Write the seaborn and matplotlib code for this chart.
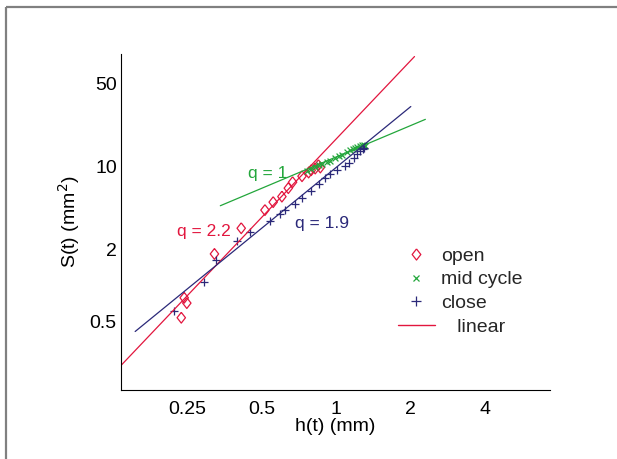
import matplotlib
matplotlib.use('Agg')
import matplotlib.pyplot as plt
import seaborn as sns
import pandas as pd
from matplotlib.lines import Line2D
from matplotlib.markers import MarkerStyle

# ---------------- data ----------------
open_h = [0.2365, 0.243, 0.249, 0.322, 0.413, 0.515, 0.556, 0.603, 0.640,
          0.666, 0.727, 0.773, 0.792, 0.822, 0.847, 0.862]
open_S = [0.533, 0.785, 0.708, 1.84, 3.03, 4.31, 5.03, 5.60, 6.60,
          7.41, 8.32, 8.94, 9.35, 9.66, 10.3, 9.85]

mid_h = [0.761, 0.790, 0.822, 0.848, 0.875, 0.917, 0.946, 0.991, 1.022, 1.054,
         1.105, 1.139, 1.168, 1.193, 1.212, 1.242, 1.270, 1.289, 1.310]
mid_S = [9.22, 9.53, 10.04, 10.30, 10.50, 10.97, 11.19, 11.95, 12.32, 12.49,
         13.31, 13.76, 14.03, 14.49, 14.66, 14.96, 15.16, 15.24, 14.96]

close_h = [0.2215, 0.291, 0.327, 0.397, 0.449, 0.541, 0.594, 0.622, 0.683,
           0.727, 0.790, 0.848, 0.903, 0.946, 1.006, 1.087, 1.121, 1.175,
           1.212, 1.250, 1.282, 1.297]
close_S = [0.607, 1.064, 1.638, 2.35, 2.83, 3.50, 3.99, 4.34, 4.84,
           5.44, 6.26, 7.13, 7.96, 8.65, 9.40, 10.16, 10.85, 11.95,
           12.74, 13.58, 14.22, 14.50]

fit_open_h = [0.135, 2.07]
fit_open_S = [0.211, 85.0]
fit_mid_h = [0.34, 2.29]
fit_mid_S = [4.69, 25.1]
fit_close_h = [0.154, 2.0]
fit_close_S = [0.408, 32.2]

x_ticks = [0.25, 0.5, 1, 2, 4]
x_tick_labels = ['0.25', '0.5', '1', '2', '4']
y_ticks = [0.5, 2, 10, 50]
y_tick_labels = ['0.5', '2', '10', '50']

legend_labels = ['open', 'mid cycle', 'close', '   linear']
annotations = [('q = 1', 0.441, 8.82), ('q = 2.2', 0.228, 2.82), ('q = 1.9', 0.683, 3.29)]

# ---------------- style ----------------
RED = '#E2163E'
GREEN = '#23A63B'
NAVY = '#2B2979'

sns.set_theme(style='white')
plt.rcParams['font.family'] = ['Liberation Sans', 'DejaVu Sans']

fig = plt.figure(figsize=(6.17, 4.59), dpi=100, facecolor='white', edgecolor='white', linewidth=0)
W, H = 617, 459
ax = fig.add_axes([121 / W, 1 - 390 / H, 429 / W, 336 / H])

diamond = MarkerStyle([(0, 1), (0.78, 0), (0, -1), (-0.78, 0), (0, 1)])

# fitted lines
sns.lineplot(x=fit_open_h, y=fit_open_S, ax=ax, color=RED, lw=0.9, legend=False)
sns.lineplot(x=fit_mid_h, y=fit_mid_S, ax=ax, color=GREEN, lw=0.9, legend=False)
sns.lineplot(x=fit_close_h, y=fit_close_S, ax=ax, color=NAVY, lw=0.9, legend=False)

# markers
df_open = pd.DataFrame({'h': open_h, 'S': open_S})
df_mid = pd.DataFrame({'h': mid_h, 'S': mid_S})
df_close = pd.DataFrame({'h': close_h, 'S': close_S})
sns.scatterplot(data=df_open, x='h', y='S', ax=ax, marker=diamond, s=60,
                facecolor='none', edgecolor=RED, linewidth=0.9, legend=False)
sns.scatterplot(data=df_mid, x='h', y='S', ax=ax, marker='x', s=18,
                color=GREEN, linewidth=0.9, legend=False)
sns.scatterplot(data=df_close, x='h', y='S', ax=ax, marker='+', s=40,
                color=NAVY, linewidth=0.9, legend=False)

ax.set_xscale('log')
ax.set_yscale('log')
ax.set_xlim(0.135, 7.3)
ax.set_ylim(0.131, 89.3)
ax.set_xticks(x_ticks)
ax.set_xticklabels(x_tick_labels)
ax.set_yticks(y_ticks)
ax.set_yticklabels(y_tick_labels)
ax.minorticks_off()

for s in ['top', 'right']:
    ax.spines[s].set_visible(False)
for s in ['left', 'bottom']:
    ax.spines[s].set_color('black')
    ax.spines[s].set_linewidth(0.8)
ax.tick_params(axis='both', direction='in', length=4, width=0.8, colors='black',
               labelsize=14, labelcolor='black')
ax.tick_params(axis='x', pad=8)
ax.tick_params(axis='y', pad=3)

ax.set_xlabel('h(t) (mm)', fontsize=14, color='black', labelpad=0)
ax.set_ylabel('S(t) (mm$^2$)', fontsize=14, color='black')
ax.yaxis.set_label_coords(-0.092, 0.5)

colors = {'q = 1': GREEN, 'q = 2.2': RED, 'q = 1.9': NAVY}
for txt, xx, yy in annotations:
    ax.text(xx, yy, txt, color=colors[txt], fontsize=12.5, ha='left', va='center')

handles = [
    Line2D([], [], ls='none', marker=diamond, mec=RED, mfc='none', ms=8, mew=0.9),
    Line2D([], [], ls='none', marker='x', color=GREEN, ms=4.5, mew=0.9),
    Line2D([], [], ls='none', marker='+', color=NAVY, ms=6.5, mew=0.9),
    Line2D([], [], color=RED, lw=1.0),
]
ax.legend(handles, legend_labels, loc='upper left',
          bbox_to_anchor=(398 / W, 1 - 247 / H), bbox_transform=fig.transFigure,
          frameon=False, borderpad=0, borderaxespad=0, handlelength=1.9,
          handletextpad=0.3, labelspacing=0.32, fontsize=14)

# figure frame (only top/left edges visible in the reference)
fig.add_artist(Line2D([6 / W, 1.02], [1 - 7 / H, 1 - 7 / H], transform=fig.transFigure,
                      color='#808080', lw=1.6, solid_capstyle='butt'))
fig.add_artist(Line2D([6 / W, 6 / W], [-0.02, 1 - 7 / H], transform=fig.transFigure,
                      color='#808080', lw=1.6, solid_capstyle='butt'))

fig.savefig('out.png', dpi=100, facecolor='white', edgecolor='white')
